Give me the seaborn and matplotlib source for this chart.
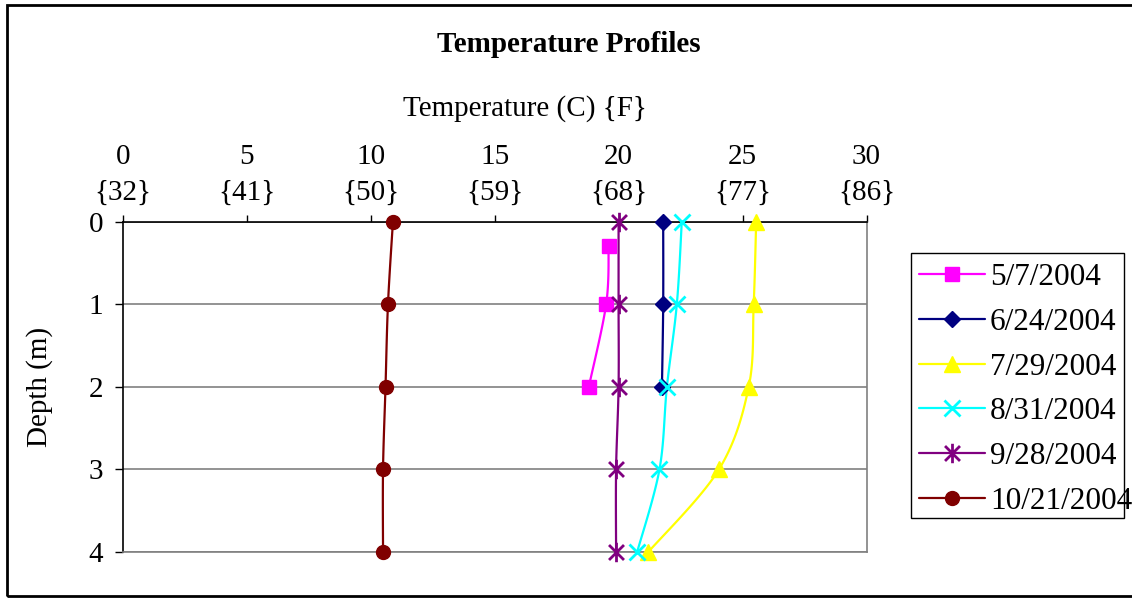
import numpy as np
import pandas as pd
import matplotlib
matplotlib.use("Agg")
import matplotlib.pyplot as plt
from matplotlib.lines import Line2D
from matplotlib.path import Path
from matplotlib.patches import Rectangle
import seaborn as sns

# ---------------- data ----------------
series_labels = ["5/7/2004", "6/24/2004", "7/29/2004", "8/31/2004", "9/28/2004", "10/21/2004"]
depth_may = [0.3, 1, 2]
temp_may = [19.6, 19.5, 18.8]
depth_jun = [0, 1, 2]
temp_jun = [21.8, 21.8, 21.75]
depth_full = [0, 1, 2, 3, 4]
temp_jul = [25.55, 25.45, 25.25, 24.05, 21.2]
temp_aug = [22.55, 22.35, 21.95, 21.65, 20.75]
temp_sep = [20.0, 20.0, 20.0, 19.9, 19.9]
temp_oct = [10.9, 10.7, 10.6, 10.5, 10.5]

x_ticks = [0, 5, 10, 15, 20, 25, 30]
x_tick_labels = ["0\n{32}", "5\n{41}", "10\n{50}", "15\n{59}", "20\n{68}", "25\n{77}", "30\n{86}"]
y_ticks = [0, 1, 2, 3, 4]

# ---------------- style ----------------
sns.set_theme(style="white")
plt.rcParams["font.family"] = ["Liberation Serif", "DejaVu Serif"]
plt.rcParams["text.color"] = "black"
plt.rcParams["xtick.color"] = "black"
plt.rcParams["ytick.color"] = "black"
plt.rcParams["axes.labelcolor"] = "black"
FS = 21
LFS = 22.5

star = Path([(-1, -1), (1, 1), (-1, 1), (1, -1), (0, -1.3), (0, 1.3)],
            [Path.MOVETO, Path.LINETO, Path.MOVETO, Path.LINETO, Path.MOVETO, Path.LINETO])

styles = [
    dict(color="#FF00FF", marker="s", ms=10, mew=1),
    dict(color="#000080", marker="D", ms=8.5, mew=1),
    dict(color="#FFFF00", marker="^", ms=12, mew=1),
    dict(color="#00FFFF", marker="x", ms=11, mew=2),
    dict(color="#800080", marker=star, ms=14, mew=2),
    dict(color="#800000", marker="o", ms=10, mew=1),
]
series = [
    (temp_may, depth_may),
    (temp_jun, depth_jun),
    (temp_jul, depth_full),
    (temp_aug, depth_full),
    (temp_sep, depth_full),
    (temp_oct, depth_full),
]


def catmull_rom(xs, ys, n=25):
    pts = np.column_stack([xs, ys]).astype(float)
    if len(pts) < 3:
        return pts[:, 0], pts[:, 1]
    out = []
    for i in range(len(pts) - 1):
        p0 = pts[i - 1] if i > 0 else pts[i]
        p1 = pts[i]
        p2 = pts[i + 1]
        p3 = pts[i + 2] if i + 2 < len(pts) else pts[i + 1]
        t = np.linspace(0, 1, n)[:, None]
        seg = 0.5 * ((2 * p1) + (-p0 + p2) * t + (2 * p0 - 5 * p1 + 4 * p2 - p3) * t ** 2
                     + (-p0 + 3 * p1 - 3 * p2 + p3) * t ** 3)
        out.append(seg if i == 0 else seg[1:])
    out = np.vstack(out)
    return out[:, 0], out[:, 1]


W, H = 1132, 598
fig = plt.figure(figsize=(W / 100, H / 100), dpi=100)
ax = fig.add_axes([122.7 / W, 1 - 552 / H, (866.5 - 122.7) / W, (552 - 221.5) / H])

for (tx, dy), st in zip(series, styles):
    cx, cy = catmull_rom(tx, dy)
    df = pd.DataFrame({"x": cx, "y": cy})
    sns.lineplot(data=df, x="x", y="y", sort=False, estimator=None, color=st["color"],
                 lw=1.6, ax=ax, zorder=3)
    ax.plot(tx, dy, linestyle="none", marker=st["marker"], ms=st["ms"], mew=st["mew"],
            color=st["color"], mec=st["color"], mfc=st["color"], zorder=4, clip_on=False)

ax.set_xlim(0, 30)
ax.set_ylim(4, 0)
ax.set_xticks(x_ticks)
ax.set_xticklabels(x_tick_labels, fontsize=FS, linespacing=1.48)
ax.set_yticks(y_ticks)
ax.set_yticklabels([str(v) for v in y_ticks], fontsize=FS)
ax.xaxis.tick_top()
ax.tick_params(axis="x", top=True, bottom=False, direction="out", length=5, width=1,
               color="black", pad=6.5)
ax.tick_params(axis="y", left=True, direction="out", length=6, width=1, color="black", pad=8)
ax.set_xlabel("")
ax.set_ylabel("")
ax.grid(False)
for d in y_ticks:
    ax.axhline(d, color="#808080", lw=1.2, zorder=1)

for side in ["top", "left"]:
    ax.spines[side].set_color("black")
    ax.spines[side].set_linewidth(1.2)
for side in ["right", "bottom"]:
    ax.spines[side].set_color("#808080")
    ax.spines[side].set_linewidth(1.2)
for sp in ax.spines.values():
    sp.set_zorder(2)

fig.text(569 / W, 1 - 44.5 / H, "Temperature Profiles", ha="center", va="center",
         fontsize=FS, fontweight="bold")
fig.text(525 / W, 1 - 109 / H, "Temperature (C) {F}", ha="center", va="center", fontsize=FS)
fig.text(40 / W, 1 - 387 / H, "Depth (m)", ha="center", va="center", rotation=90, fontsize=FS)

handles = [Line2D([0], [0], color=st["color"], lw=1.6, marker=st["marker"], ms=st["ms"],
                  mew=st["mew"], mec=st["color"], mfc=st["color"]) for st in styles]
leg = fig.legend(handles, series_labels, loc="upper left",
                 bbox_to_anchor=(919 / W, 1 - 263 / H), bbox_transform=fig.transFigure,
                 fontsize=LFS, frameon=False,
                 handlelength=2.1, handletextpad=0.17, labelspacing=0.505,
                 borderpad=0.0, borderaxespad=0)
fig.patches.append(Rectangle((911 / W, 1 - 518 / H), (1124 - 911) / W, (518 - 252.7) / H,
                             transform=fig.transFigure, fill=False, edgecolor="black",
                             lw=1, clip_on=False, zorder=0))

fig.patches.append(Rectangle((7 / W, 1 - 596 / H), (1140 - 7) / W, (596 - 5) / H,
                             transform=fig.transFigure, fill=False, edgecolor="black",
                             lw=2, clip_on=False))

fig.savefig("out.png", dpi=100, facecolor="white")
